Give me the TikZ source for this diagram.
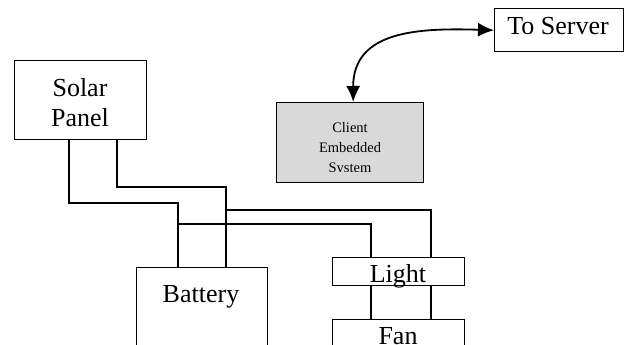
\documentclass[tikz,border=0pt]{standalone}
\usepackage{fontspec}
\setmainfont{Liberation Serif}
\usetikzlibrary{arrows.meta,calc}
\begin{document}
\begin{tikzpicture}[x=1pt,y=-1pt, line width=1.4pt,
  box/.style={draw, rectangle, inner sep=0pt, anchor=north west},
  lbl/.style={anchor=base, inner sep=0pt, font=\fontsize{26}{30}\selectfont},
  small/.style={anchor=base, inner sep=0pt, font=\fontsize{14.5}{20}\selectfont},
  biarrow/.style={line width=1.8pt, {Latex[length=16pt,width=14pt]}-{Latex[length=16pt,width=14pt]}}]
\useasboundingbox (0,0) rectangle (624,345);
\clip (0,0) rectangle (624,345);
% boxes
\node[box, minimum width=132pt, minimum height=79pt] (solar) at (14,60) {};
\node[box, fill=black!15, minimum width=147pt, minimum height=80pt] (client) at (276,102) {};
\node[box, minimum width=129pt, minimum height=43pt] (server) at (494,8) {};
\node[box, minimum width=131pt, minimum height=120pt] (battery) at (136,267) {};
\node[box, minimum width=132pt, minimum height=28pt] (light) at (332,257) {};
\node[box, minimum width=132pt, minimum height=60pt] (fan) at (332,319) {};
% labels
\node[lbl] (solart) at (80,96) {Solar};
\node[lbl] (panelt) at (80,126) {Panel};
\node[lbl] (servert) at (558,35) {To Server};
\node[lbl] (batteryt) at (201,302) {Battery};
\node[lbl] (lightt) at (398,282) {Light};
\node[lbl] (fant) at (398,344) {Fan};
\begin{scope}
  \clip (278,104) rectangle (422,171);
  \node[small] (c1) at (350,132) {Client};
  \node[small] (c2) at (350,152) {Embedded};
  \node[small] (c3) at (350,172) {System};
\end{scope}
% wire junction coordinates
\coordinate (sl) at (69,203);
\coordinate (sr) at (117,187);
\coordinate (bl) at (178,203);
\coordinate (br) at (226,187);
\coordinate (ja) at (226,210);
\coordinate (jb) at (178,224);
\coordinate (la) at (431,210);
\coordinate (lb) at (371,224);
% wires
\draw (solar.south -| sl) -- (sl) -- (bl) -- (battery.north -| bl);
\draw (solar.south -| sr) -- (sr) -- (br) -- (battery.north -| br);
\draw (ja) -- (la) -- (light.north -| la);
\draw (jb) -- (lb) -- (light.north -| lb);
\draw (light.south -| lb) -- (fan.north -| lb);
\draw (light.south -| la) -- (fan.north -| la);
% arrow
\draw[biarrow] ($(client.north)+(3,0)$) .. controls (353,30) and (420,28) .. (server.west);
\end{tikzpicture}
\end{document}
